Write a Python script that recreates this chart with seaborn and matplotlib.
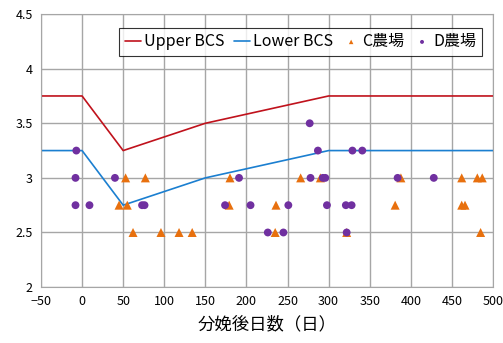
import numpy as np
import pandas as pd
import matplotlib
matplotlib.use('Agg')
import matplotlib.pyplot as plt
import seaborn as sns

# BCS guide lines
line_days = [-50, 0, 50, 150, 300, 500]
upper_bcs = [3.75, 3.75, 3.25, 3.5, 3.75, 3.75]
lower_bcs = [3.25, 3.25, 2.75, 3.0, 3.25, 3.25]

# C farm (orange triangles)
c_days = [53, 77, 180, 45, 55, 179, 62, 96, 118, 134,
          266, 290, 388, 462, 481, 487, 236, 381, 462, 466, 235, 322, 485]
c_bcs = [3.0, 3.0, 3.0, 2.75, 2.75, 2.75, 2.5, 2.5, 2.5, 2.5,
         3.0, 3.0, 3.0, 3.0, 3.0, 3.0, 2.75, 2.75, 2.75, 2.75, 2.5, 2.5, 2.5]

# D farm (purple dots)
d_days = [-7, -8, -8, 9, 40, 73, 76, 191, 174, 205, 226,
          277, 287, 329, 341, 278, 293, 296, 384, 428,
          251, 298, 321, 328, 245, 322]
d_bcs = [3.25, 3.0, 2.75, 2.75, 3.0, 2.75, 2.75, 3.0, 2.75, 2.75, 2.5,
         3.5, 3.25, 3.25, 3.25, 3.0, 3.0, 3.0, 3.0, 3.0,
         2.75, 2.75, 2.75, 2.75, 2.5, 2.5]

sns.set_style("white")
plt.rcParams['font.family'] = ['Noto Sans CJK JP', 'DejaVu Sans']
plt.rcParams['axes.unicode_minus'] = True
plt.rcParams['text.color'] = 'black'
plt.rcParams['axes.labelcolor'] = 'black'
plt.rcParams['xtick.color'] = 'black'
plt.rcParams['ytick.color'] = 'black'

fig = plt.figure(figsize=(5.03, 3.43), dpi=100)
ax = fig.add_axes([0.0815, 0.163, 0.8985, 0.796])

lines = pd.DataFrame({'day': line_days, 'upper': upper_bcs, 'lower': lower_bcs})
sns.lineplot(data=lines, x='day', y='upper', color='#C0121C', lw=1.2, ax=ax, label='Upper BCS')
sns.lineplot(data=lines, x='day', y='lower', color='#1B7FD0', lw=1.2, ax=ax, label='Lower BCS')

c_df = pd.DataFrame({'day': c_days, 'bcs': c_bcs})
d_df = pd.DataFrame({'day': d_days, 'bcs': d_bcs})
sns.scatterplot(data=c_df, x='day', y='bcs', marker='^', color='#E8700E', s=42,
                edgecolor='none', ax=ax, label='C農場', zorder=3)
sns.scatterplot(data=d_df, x='day', y='bcs', marker='o', color='#7030A0', s=32,
                edgecolor='none', ax=ax, label='D農場', zorder=4)

ax.set_xlim(-50, 500)
ax.set_ylim(2, 4.5)
ax.set_xticks(np.arange(-50, 501, 50))
ax.set_yticks([2, 2.5, 3, 3.5, 4, 4.5])
ax.set_yticklabels(['2', '2.5', '3', '3.5', '4', '4.5'])
ax.grid(True, color='#A6A6A6', lw=1.0)
ax.set_axisbelow(True)
for sp in ax.spines.values():
    sp.set_color('#A6A6A6')
ax.tick_params(axis='both', length=0, labelsize=9, pad=6)
ax.set_xlabel('分娩後日数（日）', fontsize=12.5, labelpad=5)
ax.set_ylabel('')

leg = ax.legend(loc='upper right', bbox_to_anchor=(0.993, 0.98), ncol=4,
                fontsize=11.5, frameon=True, fancybox=False, handlelength=1.0,
                handletextpad=0.2, columnspacing=0.6, borderpad=0.35,
                markerscale=0.5)
leg.get_frame().set_edgecolor('black')
leg.get_frame().set_linewidth(0.8)

fig.savefig('out.png', dpi=100)
